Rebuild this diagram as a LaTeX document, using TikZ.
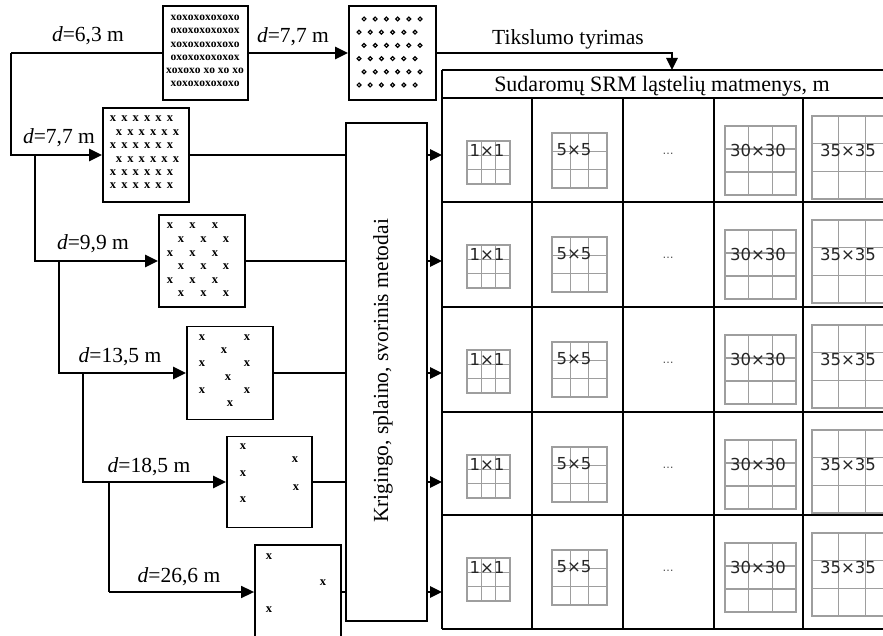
\documentclass[tikz,border=0pt]{standalone}
\usepackage{fontspec}
\setmainfont{Liberation Serif}
\newfontfamily\cellfont{DejaVu Sans}
\usetikzlibrary{arrows.meta}
\newcommand\cgrid[4]{%
  \draw[gridln] (#1,#2) rectangle ++(#3,#4);
  \foreach \k in {1,2}{%
    \draw[gridln] ({#1+\k*#3/3},#2) -- ++(0,#4);
    \draw[gridln] (#1,{#2+\k*#4/3}) -- ++(#3,0);}}
\begin{document}
\begin{tikzpicture}[x=1pt,y=-1pt,
  main/.style={line width=2.6pt},
  thinl/.style={line width=1.6pt},
  arr/.style={-{Triangle[length=13pt,width=12pt]}},
  sarr/.style={-{Triangle[length=12pt,width=11pt]}},
  ptbox/.style={draw,line width=1.8pt,inner sep=0,fill=white},
  tbl/.style={line width=1.8pt},
  gridln/.style={draw=black!38,line width=1.3pt},
  lbl/.style={font=\fontsize{21.5}{24}\selectfont,inner sep=0,anchor=base},
  celltxt/.style={font=\cellfont\fontsize{16.5}{16.5}\selectfont,text=black!85,inner sep=0},
  xm/.style={font=\bfseries\fontsize{12.5}{12.5}\selectfont,inner sep=0},
  xo/.style={font=\bfseries\fontsize{11.5}{11.5}\selectfont,inner sep=0},
  dotm/.style={draw,line width=1.2pt,fill=white}]
\clip (0,0) rectangle (883,636);
\fill[white] (0,0) rectangle (883,636);

% point boxes
\node[ptbox,minimum width=85pt,minimum height=94pt] (b1) at (205.5,53) {};
\node[ptbox,minimum width=87pt,minimum height=94pt] (b2) at (392.5,53) {};
\node[ptbox,minimum width=86pt,minimum height=94pt] (b3) at (146,155) {};
\node[ptbox,minimum width=86pt,minimum height=92pt] (b4) at (202,261) {};
\node[ptbox,minimum width=86pt,minimum height=93pt] (b5) at (230,373) {};
\node[ptbox,minimum width=85pt,minimum height=91pt] (b6) at (269.5,482) {};
\node[ptbox,minimum width=86pt,minimum height=94pt] (b7) at (298,592) {};

% method box
\node[ptbox,minimum width=81pt,minimum height=498pt] (m) at (386.5,372) {};
\node[lbl,anchor=center,rotate=90] (mt) at (383,371) {Krigingo, splaino, svorinis metodai};

% box 1 pattern
\foreach \r/\s in {0/xoxoxoxoxoxo,1/oxoxoxoxoxox,2/xoxoxoxoxoxo,3/oxoxoxoxoxox,4/{xoxoxo xo xo xo},5/xoxoxoxoxoxo}
  \node[xo] (xo\r) at (205,{18+\r*13.2}) {\s};
% box 2 pattern
\foreach \r/\o in {0/0,1/-5,2/0,3/-5,4/0,5/-5}
  \foreach \c in {0,...,5}
    \path[dotm] ({364+\o+\c*11.2},{19+\r*13.2}) circle (1.9pt);
% box 3 pattern
\foreach \r/\o in {0/0,1/6,2/0,3/6,4/0,5/0}
  \foreach \c in {0,...,5}
    \node[xm] (x3-\r-\c) at ({113+\o+\c*11.4},{119+\r*13.4}) {x};
% box 4 pattern
\foreach \r/\o in {0/0,1/11,2/0,3/11,4/0,5/11}
  \foreach \c in {0,1,2}
    \node[xm] (x4-\r-\c) at ({170+\o+\c*22.5},{226+\r*13.6}) {x};
% box 5
\foreach \p [count=\i] in {(202,338),(247,338),(224,351),(202,364),(247,364),(228,378),(202,391),(247,391),(230,404)}
  \node[xm] (x5-\i) at \p {x};
% box 6
\foreach \p [count=\i] in {(243,447),(295,460),(243,474),(296,488),(243,500)}
  \node[xm] (x6-\i) at \p {x};
% box 7
\foreach \p [count=\i] in {(269,557),(323,583),(269,610)}
  \node[xm] (x7-\i) at \p {x};

% table
\draw[tbl] (442,70) -- (890,70);
\draw[tbl] (442,98) -- (890,98);
\foreach \y in {202,307,412,515,629} \draw[tbl] (442,\y) -- (890,\y);
\draw[tbl] (442,70) -- (442,629);
\foreach \x in {532,623,714,803} \draw[tbl] (\x,98) -- (\x,629);
\node[lbl,font=\fontsize{22}{24}\selectfont] (hdr) at (662,92) {Sudaromų SRM ląstelių matmenys, m};
\coordinate (tt) at (672,70);

\foreach \T [count=\n] in {98,202,307,412,515}{
  \cgrid{467}{\T+43}{43}{43}
  \node[celltxt] (c\n-a) at (487,\T+52) {1×1};
  \cgrid{552}{\T+35}{55}{55}
  \node[celltxt] (c\n-b) at (574,\T+52) {5×5};
  \node[font=\cellfont\fontsize{11}{11}\selectfont,text=black!70,inner sep=0] (c\n-c) at (668,\T+56) {…};
  \cgrid{725}{\T+28}{71}{69}
  \node[celltxt] (c\n-d) at (758,\T+52) {30×30};
  \cgrid{812}{\T+18}{80}{83}
  \node[celltxt] (c\n-e) at (848,\T+52) {35×35};
}

% connectors
\coordinate (j0) at (11,53);
\coordinate (j1) at (35,155);
\coordinate (j2) at (59,261);
\coordinate (j3) at (83,373);
\coordinate (j4) at (109,482);
\draw[main] (b1.west) -- (j0);
\draw[main,arr] (j0) |- (b3.west);
\draw[main,arr] (b1.east) -- (b2.west);
\draw[main,sarr] (b2.east) -| (tt);
\draw[main,arr] (j1) |- (b4.west);
\draw[main,arr] (j2) |- (b5.west);
\draw[main,arr] (j3) |- (b6.west);
\draw[main] (j4) -- (j4 |- b7.west);
\draw[thinl,arr] (j4 |- b7.west) -- (b7.west);
\draw[main] (b3.east) -- (m.west |- b3.east);
\draw[main] (b4.east) -- (m.west |- b4.east);
\draw[main] (b5.east) -- (m.west |- b5.east);
\draw[main] (b6.east) -- (m.west |- b6.east);
\draw[thinl] (b7.east) -- (m.west |- b7.east);
\foreach \b [count=\i] in {b3,b4,b5,b6,b7}{
  \coordinate (t\i) at (442,0 |- \b.east);
  \draw[main,sarr] (m.east |- \b.east) -- (t\i);
}

% labels
\node[lbl] (l1) at (88,42) {\textit{d}=6,3 m};
\node[lbl] (l2) at (293,43) {\textit{d}=7,7 m};
\node[lbl] (l3) at (568,45) {Tikslumo tyrimas};
\node[lbl] (l4) at (59,144) {\textit{d}=7,7 m};
\node[lbl] (l5) at (93,250) {\textit{d}=9,9 m};
\node[lbl] (l6) at (120,362) {\textit{d}=13,5 m};
\node[lbl] (l7) at (149,472) {\textit{d}=18,5 m};
\node[lbl] (l8) at (179,582) {\textit{d}=26,6 m};
\end{tikzpicture}
\end{document}
